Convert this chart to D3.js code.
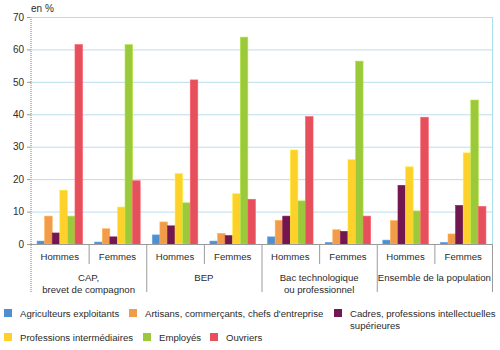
<!DOCTYPE html>
<html>
<head>
<meta charset="utf-8">
<script src="https://cdn.jsdelivr.net/npm/d3@7"></script>
<style>
  body { margin: 0; background: #fff; }
  svg text { font-family: "Liberation Sans", Arial, sans-serif; fill: #2b2b2b; }
</style>
</head>
<body>
<svg id="chart" width="500" height="350"></svg>
<script>
// categories
const diplomas = ["CAP,\nbrevet de compagnon", "BEP", "Bac technologique\nou professionnel", "Ensemble de la population"];
const sexes = ["Hommes", "Femmes"];
const series = ["Agriculteurs exploitants", "Artisans, commerçants, chefs d'entreprise",
  "Cadres, professions intellectuelles\nsupérieures", "Professions intermédiaires", "Employés", "Ouvriers"];
const colors = ["#4f8fce", "#f19c4a", "#72174f", "#fdd02b", "#9cc93b", "#e5505c"];

// values in %, one array per series, order: CAP H, CAP F, BEP H, BEP F, Bac H, Bac F, Ens H, Ens F
const agriculteurs = [0.9, 0.6, 2.8, 0.9, 2.2, 0.5, 1.2, 0.5];
const artisans     = [8.6, 4.7, 6.8, 3.3, 7.3, 4.4, 7.2, 3.1];
const cadres       = [3.4, 2.2, 5.6, 2.6, 8.6, 3.9, 18.1, 11.9];
const profInter    = [16.6, 11.4, 21.7, 15.5, 29.0, 26.0, 23.8, 28.1];
const employes     = [8.6, 61.5, 12.7, 63.8, 13.3, 56.4, 10.2, 44.4];
const ouvriers     = [61.5, 19.5, 50.6, 13.8, 39.3, 8.6, 39.1, 11.6];
const values = [agriculteurs, artisans, cadres, profInter, employes, ouvriers];

const yTicks = [0, 10, 20, 30, 40, 50, 60, 70];

const svg = d3.select("#chart");
const plotLeft = 31, plotRight = 492, plotTop = 17, plotBottom = 244;

const groups = [];
diplomas.forEach((d, i) => sexes.forEach((s, j) => groups.push(i * 2 + j)));

const x0 = d3.scaleBand().domain(groups).range([plotLeft, plotRight]);
const x1 = d3.scaleBand().domain(d3.range(series.length)).range([0, x0.bandwidth()]).paddingOuter(0.8);
const y = d3.scaleLinear().domain([0, 70]).range([plotBottom, plotTop]);

// grid lines
svg.append("g").selectAll("line")
  .data(yTicks.filter(t => t > 0))
  .enter().append("line")
  .attr("x1", plotLeft).attr("x2", plotRight)
  .attr("y1", d => y(d) + 0.5).attr("y2", d => y(d) + 0.5)
  .attr("stroke", "#bcdcee").attr("stroke-width", 1);

// right border
svg.append("line")
  .attr("x1", plotRight + 0.5).attr("x2", plotRight + 0.5)
  .attr("y1", plotTop).attr("y2", plotBottom)
  .attr("stroke", "#a9e2ee");

// bars
const barG = svg.append("g");
groups.forEach(g => {
  values.forEach((vals, k) => {
    barG.append("rect")
      .attr("x", x0(g) + x1(k))
      .attr("width", x1.bandwidth())
      .attr("y", y(vals[g]))
      .attr("height", y(0) - y(vals[g]))
      .attr("fill", colors[k])
      .attr("stroke", d3.color(colors[k]).brighter(0.4))
      .attr("stroke-width", 0.6);
  });
});

// y axis
const yAxis = d3.axisLeft(y).tickValues(yTicks).tickSize(4).tickPadding(3);
const ya = svg.append("g").attr("transform", `translate(${plotLeft},0)`).call(yAxis);
ya.select(".domain").remove();
ya.selectAll(".tick line").attr("stroke", "#999");
ya.selectAll(".tick text").attr("font-size", 10).style("font-family", "Liberation Sans, Arial, sans-serif").attr("fill", "#2b2b2b");
svg.append("line")
  .attr("x1", plotLeft).attr("x2", plotLeft)
  .attr("y1", plotTop).attr("y2", 292)
  .attr("stroke", "#bdbdbd").attr("stroke-width", 2).attr("stroke-dasharray", "1,1");

svg.append("text").attr("x", 31).attr("y", 12).attr("font-size", 10).text("en %");

// x axis baseline
svg.append("line")
  .attr("x1", plotLeft).attr("x2", plotRight)
  .attr("y1", plotBottom + 0.5).attr("y2", plotBottom + 0.5)
  .attr("stroke", "#9a9a9a");

// separators
groups.slice(1).forEach(g => {
  const long = g % 2 === 0;
  svg.append("line")
    .attr("x1", x0(g) + 0.5).attr("x2", x0(g) + 0.5)
    .attr("y1", plotBottom).attr("y2", long ? 292 : 264)
    .attr("stroke", "#9a9a9a");
});
svg.append("line")
  .attr("x1", plotRight + 0.5).attr("x2", plotRight + 0.5)
  .attr("y1", plotBottom).attr("y2", 292)
  .attr("stroke", "#9a9a9a");

// sex labels
svg.append("g").selectAll("text")
  .data(groups).enter().append("text")
  .attr("x", g => x0(g) + x0.bandwidth() / 2)
  .attr("y", 260)
  .attr("text-anchor", "middle")
  .attr("font-size", 9.6)
  .text(g => sexes[g % 2]);

// diploma labels
diplomas.forEach((d, i) => {
  const cx = x0(i * 2) + x0.bandwidth();
  const t = svg.append("text").attr("text-anchor", "middle").attr("font-size", 9.6);
  d.split("\n").forEach((line, li) => {
    t.append("tspan").attr("x", cx).attr("y", 281 + li * 11.5).text(line);
  });
});

// legend
const legendPos = [[4, 313], [129, 313], [334, 313], [4, 337], [143, 337], [210, 337]];
series.forEach((s, k) => {
  const [lx, ly] = legendPos[k];
  svg.append("rect").attr("x", lx).attr("y", ly - 4).attr("width", 8).attr("height", 8).attr("fill", colors[k]);
  const t = svg.append("text").attr("font-size", 9.6);
  s.split("\n").forEach((line, li) => {
    t.append("tspan").attr("x", lx + 16).attr("y", ly + 3.5 + li * 12).text(line);
  });
});
</script>
</body>
</html>
